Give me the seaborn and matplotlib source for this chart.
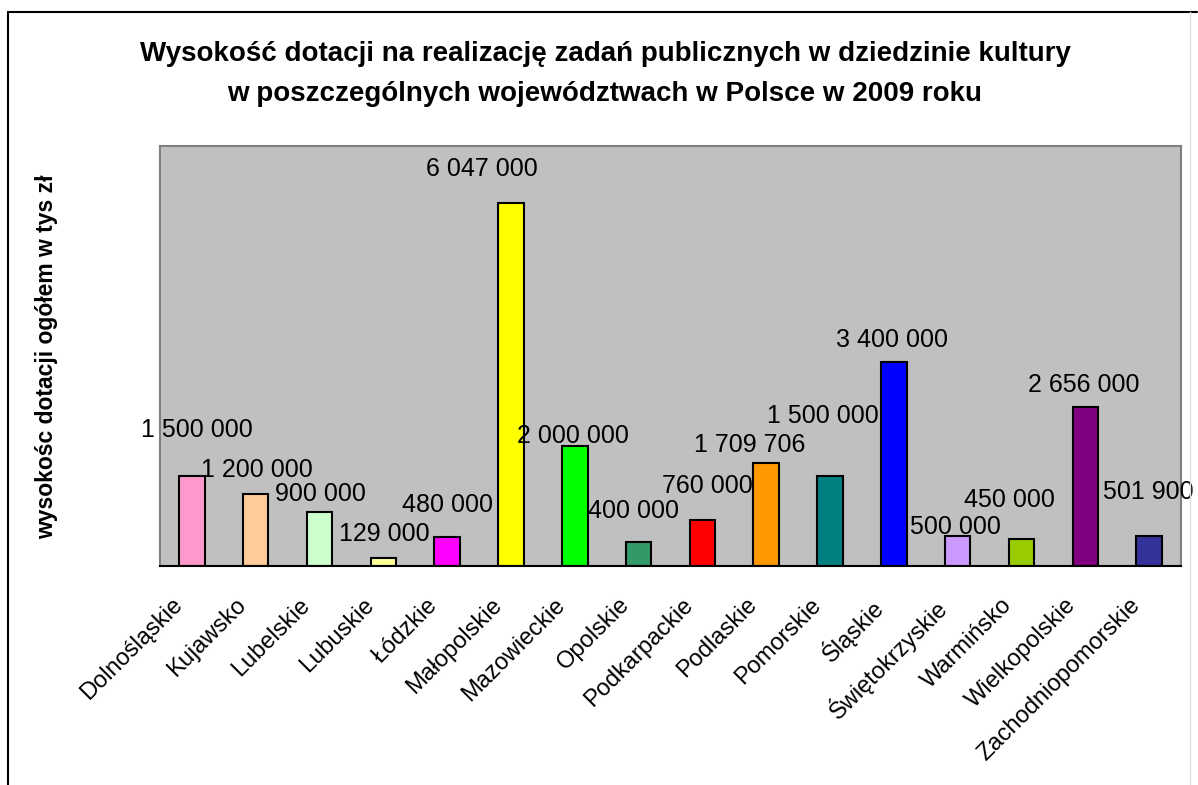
import matplotlib.pyplot as plt
import matplotlib.transforms as mtransforms
import numpy as np
import pandas as pd
import seaborn as sns
from matplotlib.lines import Line2D

##################################################
regions = ["Dolnośląskie", "Kujawsko", "Lubelskie", "Lubuskie", "Łódzkie", "Małopolskie",
           "Mazowieckie", "Opolskie", "Podkarpackie", "Podlaskie", "Pomorskie", "Śląskie",
           "Świętokrzyskie", "Warmińsko", "Wielkopolskie", "Zachodniopomorskie"]
values = [1500000, 1200000, 900000, 129000, 480000, 6047000,
          2000000, 400000, 760000, 1709706, 1500000, 3400000,
          500000, 450000, 2656000, 501900]
colors = ["#FF99CC", "#FFCC99", "#CCFFCC", "#FFFF99", "#FF00FF", "#FFFF00",
          "#00FF00", "#339966", "#FF0000", "#FF9900", "#008080", "#0000FF",
          "#CC99FF", "#99CC00", "#800080", "#333399"]

# przesunięcia etykiet (w pikselach) względem środka wierzchołka słupka
label_dx = [6, 2, 2, 2, 1, -28, -1, -4, 6, -16, -6, -1, -1, -11, -1, 0]
label_dy = [48, 26, 20, 26, 34, 36, 12, 33, 36, 20, 62, 24, 11, 41, 24, 46]

title = ("Wysokość dotacji na realizację zadań publicznych w dziedzinie kultury\n"
         "w poszczególnych województwach w Polsce w 2009 roku")
ylabel = "wysokośc dotacji ogółem w tys zł"

##################################################
sns.set_style("white")
plt.rcParams['font.family'] = ['Liberation Sans', 'DejaVu Sans']
plt.rcParams['text.color'] = 'black'
plt.rcParams['xtick.color'] = 'black'
plt.rcParams['xtick.labelcolor'] = 'black'

W, H = 1198, 785
fig = plt.figure(figsize=(W / 100, H / 100), dpi=100)
ax = fig.add_axes([160 / W, 1 - 566 / H, 1021 / W, 420 / H])

df = pd.DataFrame({"region": regions, "value": values})
sns.barplot(data=df, x="region", y="value", hue="region", palette=colors, legend=False,
            saturation=1, width=0.4, edgecolor="black", linewidth=1.5, ax=ax)

ax.set_facecolor("#C0C0C0")
ax.set_xlim(-0.5, len(regions) - 0.5)
ax.set_ylim(0, 7000000)
ax.set_yticks([])
ax.set_xlabel("")
ax.set_ylabel("")

for s in ["top", "left", "right"]:
    ax.spines[s].set_color("#808080")
    ax.spines[s].set_linewidth(1.5)
ax.spines["bottom"].set_color("black")
ax.spines["bottom"].set_linewidth(1.5)

# etykiety kategorii i znaczniki na granicach kategorii
ax.set_xticks(range(len(regions)))
ax.set_xticklabels(regions, rotation=45, ha="right", va="top", fontsize=17, color="black")
ax.set_xticks(np.arange(-0.5, len(regions)), minor=True)
ax.tick_params(axis="x", which="major", length=0, pad=20)
ax.tick_params(axis="x", which="minor", length=6, width=1.2, color="black", direction="out")
shift = mtransforms.ScaledTranslation(-5 / 100, 0, fig.dpi_scale_trans)
for lab in ax.get_xticklabels():
    lab.set_transform(lab.get_transform() + shift)

# etykiety wartości
for i, v in enumerate(values):
    txt = f"{v:,}".replace(",", " ")
    ax.annotate(txt, xy=(i, v), xytext=(label_dx[i] - 1, label_dy[i] - 9),
                textcoords="offset pixels", ha="center", va="baseline", fontsize=18,
                color="black")

fig.text(605 / W, 1 - 74 / H, title, ha="center", va="center", fontsize=20,
         fontweight="bold", linespacing=1.72)
fig.text(47 / W, 1 - 357 / H, ylabel, ha="center", va="center", rotation=90,
         fontsize=16.5, fontweight="bold")

# ramka wykresu
fig.add_artist(Line2D([8 / W, 8 / W], [0, 1 - 12 / H], color="black", lw=1.5, transform=fig.transFigure))
fig.add_artist(Line2D([8 / W, 1197 / W], [1 - 12 / H, 1 - 12 / H], color="black", lw=1.5, transform=fig.transFigure))
fig.add_artist(Line2D([1190 / W, 1190 / W], [0, 1 - 12 / H], color="#E0E0E0", lw=1, transform=fig.transFigure))

plt.savefig("out.png", dpi=100)
